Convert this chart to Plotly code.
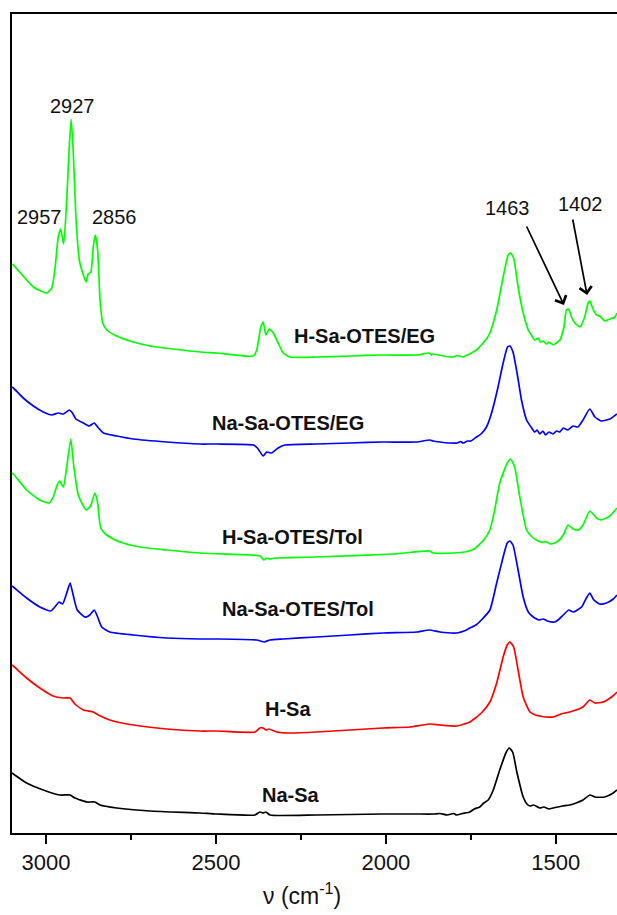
import plotly.graph_objects as go

# FTIR spectra (offset-stacked absorbance, arbitrary units)

wn_h_eg = [3100, 3096, 3037, 2998, 2983, 2973, 2964, 2957, 2948, 2939, 2932, 2926, 2920, 2912, 2902,
           2890, 2882, 2876, 2868, 2861, 2855, 2848, 2841, 2833, 2821, 2792, 2743, 2694, 2626, 2547,
           2498, 2390, 2380, 2368, 2361, 2353, 2343, 2331, 2317, 2302, 2282, 2204, 2106, 2008, 1910,
           1872, 1866, 1861, 1830, 1802, 1790, 1773, 1760, 1743, 1730, 1714, 1704, 1694, 1674, 1655,
           1640, 1633, 1624, 1611, 1596, 1581, 1572, 1562, 1552, 1545, 1537, 1528, 1520, 1508, 1498,
           1488, 1476, 1469, 1462, 1454, 1444, 1429, 1415, 1405, 1400, 1392, 1380, 1371, 1365, 1356,
           1341, 1326, 1320]
ab_h_eg = [5.69, 5.68, 5.46, 5.40, 5.45, 5.66, 5.96, 6.04, 5.89, 6.33, 6.83, 7.14, 6.83, 6.16, 5.73,
           5.58, 5.51, 5.59, 5.61, 5.86, 5.98, 5.83, 5.33, 5.10, 5.03, 4.97, 4.91, 4.87, 4.84, 4.81,
           4.80, 4.77, 4.83, 5.06, 5.11, 4.98, 5.04, 5.00, 4.90, 4.80, 4.76, 4.76, 4.77, 4.78, 4.78,
           4.80, 4.78, 4.79, 4.77, 4.76, 4.775, 4.76, 4.78, 4.81, 4.84, 4.90, 4.94, 5.00, 5.23, 5.56,
           5.78, 5.80, 5.75, 5.46, 5.20, 5.03, 4.98, 4.93, 4.95, 4.91, 4.92, 4.89, 4.91, 4.88, 4.90,
           4.93, 5.06, 5.23, 5.24, 5.16, 5.10, 5.06, 5.16, 5.30, 5.32, 5.25, 5.18, 5.17, 5.15, 5.12,
           5.14, 5.16, 5.20]

wn_na_eg = [3100, 3096, 3067, 3037, 3008, 2983, 2964, 2949, 2931, 2922, 2912, 2890, 2873, 2858, 2848,
            2831, 2792, 2743, 2645, 2547, 2498, 2390, 2378, 2361, 2351, 2336, 2317, 2297, 2204, 2106,
            2008, 1910, 1871, 1861, 1841, 1812, 1790, 1780, 1773, 1760, 1750, 1733, 1720, 1704, 1689,
            1670, 1655, 1642, 1635, 1626, 1614, 1601, 1586, 1571, 1562, 1555, 1547, 1538, 1530, 1520,
            1508, 1498, 1488, 1478, 1465, 1449, 1435, 1420, 1400, 1385, 1366, 1341, 1320]
ab_na_eg = [4.46, 4.45, 4.35, 4.27, 4.21, 4.18, 4.20, 4.19, 4.23, 4.20, 4.14, 4.10, 4.07, 4.10, 4.06,
            4.00, 3.97, 3.94, 3.91, 3.89, 3.89, 3.88, 3.85, 3.77, 3.81, 3.80, 3.85, 3.88, 3.89, 3.90,
            3.91, 3.91, 3.93, 3.92, 3.91, 3.90, 3.90, 3.915, 3.90, 3.92, 3.92, 3.96, 3.99, 4.06, 4.20,
            4.46, 4.70, 4.86, 4.87, 4.81, 4.60, 4.33, 4.13, 4.05, 4.01, 4.03, 3.99, 4.02, 3.98, 4.01,
            3.99, 4.02, 4.01, 4.05, 4.03, 4.07, 4.06, 4.13, 4.24, 4.16, 4.12, 4.14, 4.19]

wn_h_tol = [3100, 3096, 3057, 3018, 2990, 2979, 2967, 2959, 2949, 2939, 2927, 2918, 2905, 2882, 2869,
            2856, 2848, 2839, 2822, 2782, 2724, 2645, 2547, 2394, 2370, 2359, 2350, 2343, 2325, 2209,
            1977, 1873, 1860, 1800, 1769, 1740, 1712, 1694, 1680, 1665, 1643, 1633, 1621, 1606, 1586,
            1570, 1557, 1545, 1527, 1515, 1503, 1490, 1478, 1464, 1449, 1434, 1420, 1400, 1380, 1366,
            1341, 1320]
ab_h_tol = [3.60, 3.59, 3.43, 3.33, 3.30, 3.36, 3.48, 3.52, 3.46, 3.66, 3.94, 3.66, 3.38, 3.23, 3.27,
            3.40, 3.30, 3.05, 2.98, 2.91, 2.86, 2.83, 2.80, 2.78, 2.77, 2.73, 2.75, 2.74, 2.75, 2.76,
            2.79, 2.82, 2.80, 2.80, 2.81, 2.84, 2.93, 3.03, 3.23, 3.50, 3.70, 3.74, 3.66, 3.36, 3.03,
            2.96, 2.93, 2.91, 2.91, 2.89, 2.90, 2.93, 2.98, 3.08, 3.04, 3.03, 3.08, 3.22, 3.15, 3.13,
            3.17, 3.25]

wn_na_tol = [3100, 3096, 3057, 3018, 2986, 2974, 2961, 2951, 2939, 2929, 2920, 2908, 2885, 2871, 2858,
             2848, 2836, 2812, 2743, 2645, 2547, 2498, 2380, 2358, 2341, 2302, 2204, 2106, 2008, 1910,
             1871, 1841, 1792, 1770, 1753, 1735, 1719, 1694, 1674, 1655, 1643, 1635, 1626, 1611, 1596,
             1581, 1570, 1562, 1550, 1537, 1525, 1503, 1490, 1478, 1462, 1449, 1424, 1410, 1400, 1388,
             1371, 1351, 1331, 1320]
ab_na_tol = [2.47, 2.46, 2.35, 2.26, 2.22, 2.26, 2.31, 2.29, 2.40, 2.50, 2.38, 2.23, 2.16, 2.18, 2.23,
             2.16, 2.06, 2.01, 1.98, 1.95, 1.94, 1.94, 1.93, 1.91, 1.93, 1.94, 1.96, 1.98, 2.00, 2.01,
             2.03, 2.01, 2.00, 2.02, 2.05, 2.08, 2.13, 2.23, 2.50, 2.76, 2.90, 2.92, 2.88, 2.63, 2.36,
             2.21, 2.17, 2.15, 2.13, 2.14, 2.12, 2.11, 2.14, 2.18, 2.23, 2.21, 2.26, 2.35, 2.40, 2.33,
             2.29, 2.30, 2.34, 2.38]

wn_h_sa = [3100, 3096, 3057, 3018, 2979, 2949, 2929, 2915, 2890, 2861, 2846, 2812, 2743, 2645, 2547,
           2498, 2385, 2371, 2361, 2353, 2344, 2321, 2282, 2204, 2106, 2008, 1929, 1871, 1841, 1792,
           1753, 1719, 1694, 1674, 1655, 1643, 1635, 1624, 1611, 1596, 1576, 1560, 1547, 1530, 1508,
           1485, 1459, 1420, 1400, 1385, 1361, 1336, 1320]
ab_h_sa = [1.68, 1.67, 1.55, 1.45, 1.37, 1.35, 1.35, 1.29, 1.23, 1.21, 1.18, 1.13, 1.08, 1.04, 1.02,
           1.02, 1.01, 1.05, 1.05, 1.03, 1.04, 1.01, 1.00, 1.01, 1.03, 1.05, 1.06, 1.09, 1.08, 1.07,
           1.11, 1.20, 1.31, 1.50, 1.76, 1.88, 1.91, 1.86, 1.63, 1.36, 1.21, 1.18, 1.17, 1.16, 1.16,
           1.19, 1.21, 1.26, 1.33, 1.30, 1.31, 1.36, 1.41]

wn_na_sa = [3100, 3096, 3057, 3008, 2959, 2929, 2915, 2880, 2856, 2841, 2792, 2694, 2547, 2498, 2385,
            2371, 2361, 2353, 2341, 2204, 2008, 1910, 1860, 1841, 1820, 1800, 1792, 1775, 1753, 1740,
            1724, 1712, 1699, 1684, 1665, 1647, 1637, 1627, 1614, 1596, 1585, 1576, 1565, 1547, 1535,
            1520, 1508, 1495, 1480, 1459, 1440, 1420, 1400, 1385, 1356, 1331, 1320]
ab_na_sa = [0.60, 0.59, 0.50, 0.43, 0.38, 0.38, 0.35, 0.31, 0.31, 0.28, 0.25, 0.22, 0.20, 0.19, 0.18,
            0.21, 0.20, 0.21, 0.18, 0.18, 0.19, 0.19, 0.19, 0.195, 0.18, 0.195, 0.18, 0.195, 0.21, 0.24,
            0.26, 0.30, 0.33, 0.43, 0.63, 0.80, 0.85, 0.81, 0.60, 0.36, 0.29, 0.27, 0.28, 0.25, 0.26,
            0.24, 0.25, 0.26, 0.27, 0.28, 0.30, 0.33, 0.38, 0.36, 0.36, 0.40, 0.43]

series = [
    (wn_h_eg, ab_h_eg, "#00ff00"),
    (wn_na_eg, ab_na_eg, "#0000ff"),
    (wn_h_tol, ab_h_tol, "#00ff00"),
    (wn_na_tol, ab_na_tol, "#0000ff"),
    (wn_h_sa, ab_h_sa, "#ff0000"),
    (wn_na_sa, ab_na_sa, "#000000"),
]

sample_names = ["H-Sa-OTES/EG", "Na-Sa-OTES/EG", "H-Sa-OTES/Tol", "Na-Sa-OTES/Tol", "H-Sa", "Na-Sa"]
name_wn = [2062, 2287, 2276, 2260, 2287, 2280]
name_ab = [4.97, 4.10, 2.96, 2.24, 1.24, 0.38]

peak_labels = ["2927", "2957", "2856"]
peak_wn = [2923, 3020, 2799]
peak_ab = [7.27, 6.16, 6.16]

arrow_labels = ["1463", "1402"]
arrow_label_wn = [1643, 1426]
arrow_label_ab = [6.25, 6.29]
arrow_tail_wn = [1588, 1451]
arrow_tail_ab = [6.08, 6.15]
arrow_tip_wn = [1476, 1408]
arrow_tip_ab = [5.28, 5.38]

FONT = "Liberation Sans, Arial, sans-serif"

fig = go.Figure()
for wn, ab, color in series:
    fig.add_trace(go.Scatter(x=wn, y=ab, mode="lines",
                             line=dict(color=color, width=1.7, shape="spline", smoothing=0.5),
                             showlegend=False))

annotations = []
for name, x, y in zip(sample_names, name_wn, name_ab):
    annotations.append(dict(x=x, y=y, text=f"<b>{name}</b>", showarrow=False,
                            font=dict(family=FONT, size=20, color="#111")))
for lab, x, y in zip(peak_labels, peak_wn, peak_ab):
    annotations.append(dict(x=x, y=y, text=lab, showarrow=False,
                            font=dict(family=FONT, size=20, color="#111")))
for lab, x, y in zip(arrow_labels, arrow_label_wn, arrow_label_ab):
    annotations.append(dict(x=x, y=y, text=lab, showarrow=False,
                            font=dict(family=FONT, size=20, color="#111")))
for tx, ty, hx, hy in zip(arrow_tail_wn, arrow_tail_ab, arrow_tip_wn, arrow_tip_ab):
    annotations.append(dict(x=hx, y=hy, ax=tx, ay=ty, xref="x", yref="y", axref="x", ayref="y",
                            text="", showarrow=True, arrowhead=4, arrowsize=1.4,
                            arrowwidth=1.7, arrowcolor="#000"))
annotations.append(dict(x=0.48, y=-0.075, xref="paper", yref="paper", showarrow=False,
                        text="\u03bd (cm<sup>-1</sup>)", yanchor="middle",
                        font=dict(family=FONT, size=23, color="#111")))

fig.update_layout(
    width=617, height=915,
    margin=dict(l=12, r=0, t=14, b=82),
    paper_bgcolor="white", plot_bgcolor="white",
    annotations=annotations,
    xaxis=dict(range=[3100, 1320], tickvals=[3000, 2500, 2000, 1500],
               ticks="outside", ticklen=9, tickwidth=1.5, tickcolor="#000",
               minor=dict(tickvals=[2750, 2250, 1750], ticks="outside", ticklen=5,
                          tickwidth=1.5, tickcolor="#000"),
               showline=True, linecolor="#000", linewidth=2, mirror=True,
               showgrid=False, zeroline=False,
               tickfont=dict(family=FONT, size=22, color="#111")),
    yaxis=dict(range=[0, 8.19], showticklabels=False, ticks="",
               showline=True, linecolor="#000", linewidth=2, mirror=False,
               showgrid=False, zeroline=False),
)

fig.write_html("out.html")
